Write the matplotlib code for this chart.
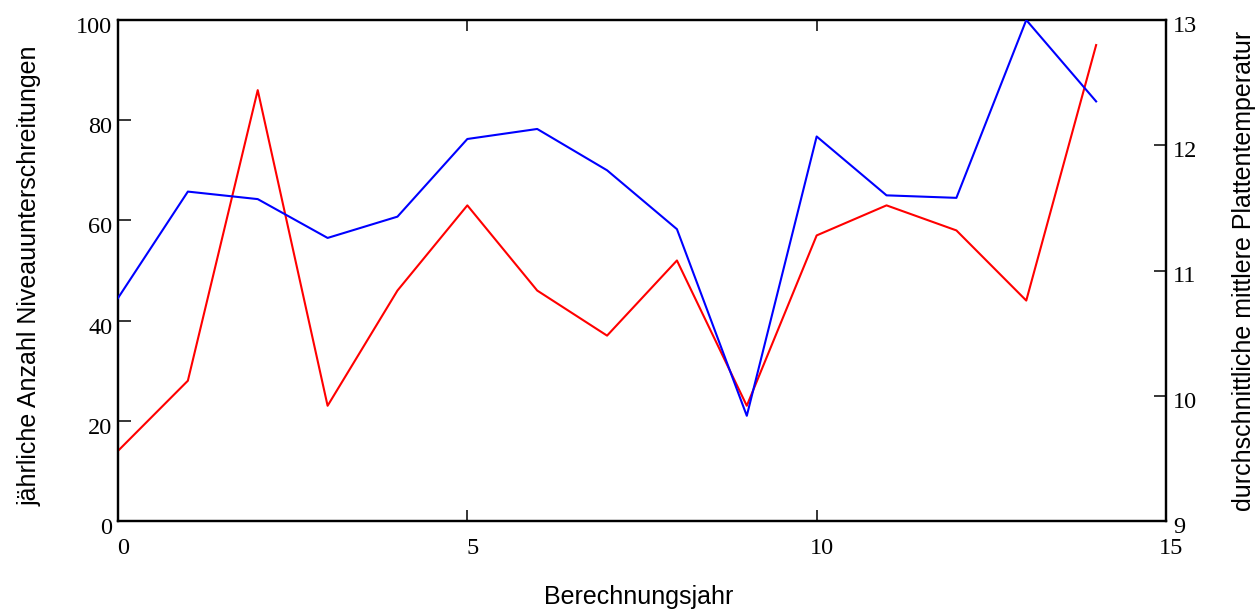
import matplotlib
matplotlib.use("Agg")
import matplotlib.pyplot as plt
import matplotlib.transforms as mtransforms
import numpy as np

# Berechnungsjahr
years = np.arange(15)
# jaehrliche Anzahl Niveauunterschreitungen (left axis, red)
unterschreitungen = [14, 28, 86, 23, 46, 63, 46, 37, 52, 23, 57, 63, 58, 44, 95]
# durchschnittliche mittlere Plattentemperatur (right axis, blue)
temperatur = [10.78, 11.63, 11.57, 11.26, 11.43, 12.05, 12.13, 11.80,
              11.33, 9.84, 12.07, 11.60, 11.58, 13.00, 12.35]

x_ticks = [0, 5, 10, 15]
left_ticks = [0, 20, 40, 60, 80, 100]
right_ticks = [9, 10, 11, 12, 13]

TICK_FONT = dict(family="Liberation Serif", size=17.5)
LABEL_FONT = dict(family="Liberation Sans", size=18)

fig = plt.figure(figsize=(12.55, 6.10), dpi=100)
W, H = 1255, 610
x0, x1, y0, y1 = 118, 1166, 20, 521
ax = fig.add_axes([x0 / W, 1 - y1 / H, (x1 - x0) / W, (y1 - y0) / H])
ax2 = ax.twinx()

ax.plot(years, unterschreitungen, color="#ff0000", lw=1.5, zorder=3)
ax2.plot(years, temperatur, color="#0000ff", lw=1.5, zorder=3)

ax.set_xlim(0, 15)
ax.set_ylim(0, 100)
ax2.set_ylim(9, 13)

for a in (ax, ax2):
    for s in a.spines.values():
        s.set_linewidth(1.6)

ax.set_xticks(x_ticks)
ax.set_yticks(left_ticks)
ax2.set_yticks(right_ticks)

ax.tick_params(axis="x", direction="in", length=8, width=1.1, top=True, pad=12.5)
ax.tick_params(axis="y", direction="in", length=9, width=1.1, right=False, pad=4)
ax2.tick_params(axis="y", direction="in", length=9, width=1.1, pad=5)

ax.set_xticklabels([str(v) for v in x_ticks], fontdict=TICK_FONT)
ax.set_yticklabels([str(v) for v in left_ticks], fontdict=TICK_FONT)
ax2.set_yticklabels([str(v) for v in right_ticks], fontdict=TICK_FONT)

# Mathcad-style label offsets: x labels nudged right, y labels nudged down
shift_x = mtransforms.ScaledTranslation(0.05, 0, fig.dpi_scale_trans)
shift_y = mtransforms.ScaledTranslation(0, -0.05, fig.dpi_scale_trans)
shift_r = mtransforms.ScaledTranslation(0, -0.04, fig.dpi_scale_trans)
for lbl in ax.get_xticklabels():
    lbl.set_transform(lbl.get_transform() + shift_x)
for lbl in ax.get_yticklabels():
    lbl.set_transform(lbl.get_transform() + shift_y)
for lbl in ax2.get_yticklabels():
    lbl.set_transform(lbl.get_transform() + shift_r)

ax.set_xlabel("Berechnungsjahr", fontdict=LABEL_FONT)
ax.xaxis.label.set_va("center")
ax.xaxis.set_label_coords(0.497, -0.152)

ax.set_ylabel("jährliche Anzahl Niveauunterschreitungen", fontdict=LABEL_FONT)
ax.yaxis.label.set_va("center")
ax.yaxis.set_label_coords(-0.084, 0.49)

ax2.set_ylabel("durchschnittliche mittlere Plattentemperatur", fontdict=LABEL_FONT,
               rotation=90)
ax2.yaxis.label.set_va("center")
ax2.yaxis.set_label_coords(1.074, 0.50)

fig.savefig("out.png", dpi=100)
